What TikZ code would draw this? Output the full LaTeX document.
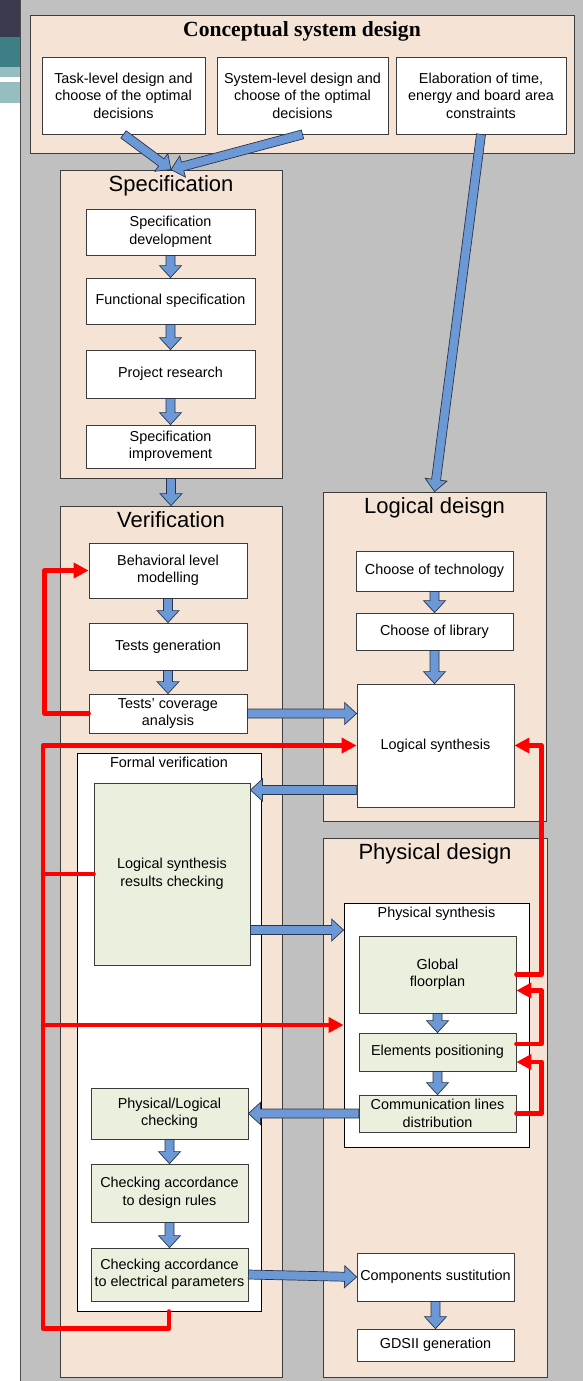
\documentclass[tikz,border=0pt]{standalone}
\usepackage{fontspec}
\setmainfont{Liberation Sans}
\newfontfamily\serifbold{Liberation Serif}
\usetikzlibrary{arrows.meta, calc}

\definecolor{peach}{RGB}{245,228,214}
\definecolor{sage}{RGB}{235,239,222}
\definecolor{panelgray}{RGB}{192,192,192}
\definecolor{arrowblue}{RGB}{108,153,214}
\definecolor{arrowedge}{RGB}{40,52,75}
\definecolor{edgegray}{RGB}{60,60,60}
\definecolor{stripdark}{RGB}{58,58,78}
\definecolor{stripteal}{RGB}{62,126,134}
\definecolor{stripgrid}{RGB}{150,190,192}

\tikzset{
  wh/.style 2 args={minimum width=#1pt, minimum height=#2pt},
  box/.style={draw=edgegray, line width=0.8pt, fill=white, inner sep=0pt, align=center,
    font=\fontsize{14.4}{17.5}\selectfont},
  check/.style={box, fill=sage},
  stage/.style={draw=edgegray, line width=0.8pt, fill=peach, inner sep=0pt},
  inner/.style={draw=black, line width=0.8pt, fill=white, inner sep=0pt},
  heading/.style={anchor=base, inner sep=0pt, font=\fontsize{22}{26}\selectfont},
  subheading/.style={anchor=base, inner sep=0pt, font=\fontsize{14.4}{17.5}\selectfont},
  bigarrow/.style={draw=arrowedge, fill=arrowblue, line width=0.7pt, line join=miter},
  feedback/.style={draw=red, line width=4.5pt, line join=round, line cap=round,
    -{Triangle[length=15pt,width=15pt]}},
  redwire/.style={draw=red, line width=4.5pt, line cap=round},
}

\newcommand{\bigarrow}[2]{%
  \draw[bigarrow] let \p1=#1, \p2=#2,
      \n1={atan2(\y2-\y1,\x2-\x1)}, \n2={veclen(\x2-\x1,\y2-\y1)} in
    [shift={(\p1)}, rotate=\n1]
    (0,4.5) -- (\n2-12,4.5) -- (\n2-12,11) -- (\n2,0) -- (\n2-12,-11)
    -- (\n2-12,-4.5) -- (0,-4.5) -- cycle;}

\begin{document}
\begin{tikzpicture}[x=1pt, y=-1pt]
  \useasboundingbox (0,0) rectangle (583,1381);
  \fill[stripdark] (0,0) rectangle (20,37);
  \fill[stripteal] (0,37) rectangle (20,67);
  \fill[stripgrid] (0,67) rectangle (20,103);
  \fill[white] (0,77) rectangle (20,82);
  \fill[panelgray] (20,0) rectangle (583,1381);
  \draw[gray!60!black, line width=1pt] (20.5,0) -- (20.5,1381);

  \node[stage, wh={544}{138}] (concept) at (302,84) {};
  \node[heading, font={\serifbold\bfseries\fontsize{21.6}{26}\selectfont}] (concepttitle)
    at ([yshift=-22pt]concept.north) {Conceptual system design};
  \node[box, wh={163}{77}] (task) at (123.5,95.5) {Task-level design and\\choose of the optimal\\decisions};
  \node[box, wh={171}{77}] (syslevel) at (302.5,95.5) {System-level design and\\choose of the optimal\\decisions};
  \node[box, wh={170}{77}] (elab) at (481,95.5) {Elaboration of time,\\energy and board area\\constraints};

  \node[stage, wh={222}{308}] (spec) at (171,324) {};
  \node[heading] (spectitle) at ([yshift=-22pt]spec.north) {Specification};
  \node[box, wh={169}{46}] (specdev) at (170.5,232) {Specification\\development};
  \node[box, wh={169}{46}] (funcspec) at (170.5,301) {Functional specification};
  \node[box, wh={169}{48}] (research) at (170.5,374) {Project research};
  \node[box, wh={169}{43}] (specimp) at (170.5,446.5) {Specification\\improvement};

  \node[stage, wh={222}{871}] (verif) at (171,941.5) {};
  \node[heading] (veriftitle) at ([yshift=-22pt]verif.north) {Verification};
  \node[box, wh={158}{55}] (behav) at (168,570.5) {Behavioral level\\modelling};
  \node[box, wh={158}{47}] (testgen) at (168,646.5) {Tests generation};
  \node[box, wh={158}{39}] (testcov) at (168,713.5) {Tests’ coverage\\analysis};
  \node[inner, wh={184}{558}] (formal) at (169,1032) {};
  \node[subheading] (formaltitle) at ([yshift=-15pt]formal.north) {Formal verification};
  \node[check, wh={156}{182}] (synchk) at (172,874) {Logical synthesis\\results checking};
  \node[check, wh={157}{51}] (physlog) at (169.5,1113.5) {Physical/Logical\\checking};
  \node[check, wh={157}{58}] (rulechk) at (169.5,1193) {Checking accordance\\to design rules};
  \node[check, wh={157}{53}] (elecchk) at (169.5,1274.5) {Checking accordance\\to electrical parameters};

  \node[stage, wh={223}{329}] (logic) at (434.5,656.5) {};
  \node[heading] (logictitle) at ([yshift=-22pt]logic.north) {Logical deisgn};
  \node[box, wh={157}{40}] (tech) at (434.5,571) {Choose of technology};
  \node[box, wh={157}{37}] (library) at (434.5,631.5) {Choose of library};
  \node[box, wh={157}{123}] (logsyn) at (435.5,745.5) {Logical synthesis};

  \node[stage, wh={224}{539}] (phys) at (435,1107.5) {};
  \node[heading] (phystitle) at ([yshift=-22pt]phys.north) {Physical design};
  \node[inner, wh={185}{244}] (physsyn) at (436.5,1025) {};
  \node[subheading] (physsyntitle) at ([yshift=-15pt]physsyn.north) {Physical synthesis};
  \node[check, wh={157}{77}] (floorplan) at (437.5,974.5) {Global\\floorplan};
  \node[check, wh={157}{38}] (placing) at (437.5,1052) {Elements positioning};
  \node[check, wh={157}{37}] (routing) at (437.5,1113.5) {Communication lines\\distribution};
  \node[box, wh={157}{48}] (subst) at (435.5,1277) {Components sustitution};
  \node[box, wh={157}{32}] (gdsii) at (435.5,1345) {GDSII generation};

  \coordinate (logsynout) at ([yshift=-44.5pt]logsyn.west);
  \coordinate (synchkout) at ([yshift=-56pt]synchk.east);

  \bigarrow{(task.south)}{(spec.north)}
  \bigarrow{(syslevel.south)}{(spec.north)}
  \bigarrow{(elab.south)}{(logic.north)}
  \bigarrow{(specdev.south)}{(funcspec.north)}
  \bigarrow{(funcspec.south)}{(research.north)}
  \bigarrow{(research.south)}{(specimp.north)}
  \bigarrow{(spec.south)}{(verif.north)}
  \bigarrow{(behav.south)}{(testgen.north)}
  \bigarrow{(testgen.south)}{(testcov.north)}
  \bigarrow{(testcov.east)}{(testcov.east -| logsyn.west)}
  \bigarrow{(logsynout)}{(logsynout -| synchk.east)}
  \bigarrow{(synchkout)}{(synchkout -| physsyn.west)}
  \bigarrow{(routing.west)}{(routing.west -| physlog.east)}
  \bigarrow{(physlog.south)}{(rulechk.north)}
  \bigarrow{(rulechk.south)}{(elecchk.north)}
  \bigarrow{(elecchk.east)}{(subst.west)}
  \bigarrow{(subst.south)}{(gdsii.north)}
  \bigarrow{(tech.south)}{(library.north)}
  \bigarrow{(library.south)}{(library.south |- logsyn.north)}
  \bigarrow{(floorplan.south)}{(placing.north)}
  \bigarrow{(placing.south)}{(routing.north)}

  \draw[feedback] (testcov.west) -- ++(-44,0) |- (behav.west);
  \draw[feedback] (formal.south) |- ++(-126,17) coordinate (loopcorner) |- (logsyn.west);
  \draw[redwire] (loopcorner |- synchk.west) -- (synchk.west);
  \draw[feedback] (loopcorner |- physsyn.west) -- (physsyn.west);
  \draw[feedback] (floorplan.east) -- ++(25,0) |- (logsyn.east);
  \draw[feedback] ([yshift=8pt]placing.east) -- ++(25,0) |- ([yshift=-16pt]floorplan.east);
  \draw[feedback] (routing.east) -- ++(25,0) |- ([yshift=-10pt]placing.east);
\end{tikzpicture}
\end{document}
